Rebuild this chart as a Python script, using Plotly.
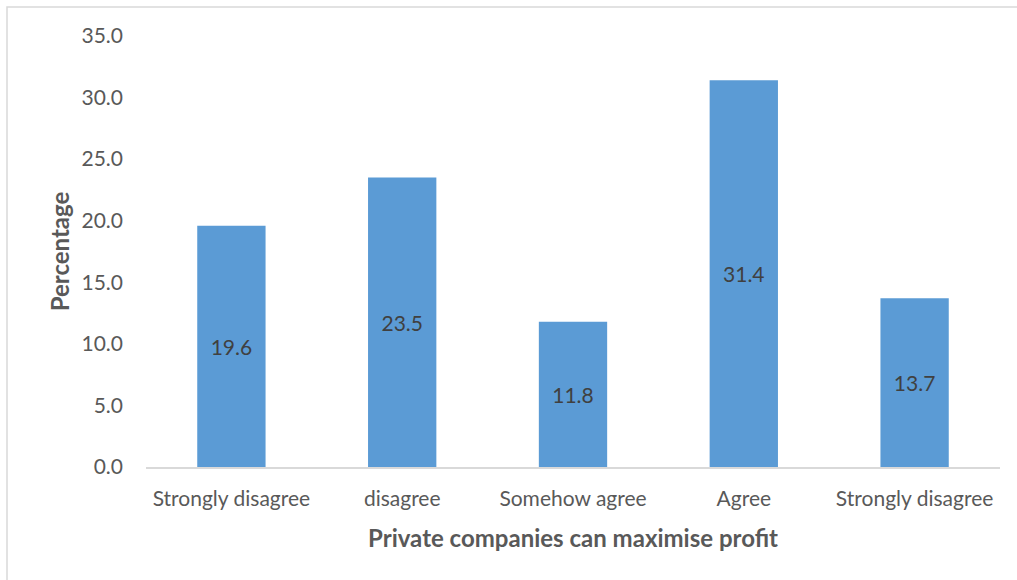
import plotly.graph_objects as go

categories = ["Strongly disagree", "disagree", "Somehow agree", "Agree", "Strongly disagree"]
values = [19.6, 23.5, 11.8, 31.4, 13.7]
y_ticks = [0, 5, 10, 15, 20, 25, 30, 35]

W, H = 1017, 580
L, R, T, B = 146, 17, 36, 113
pw, ph = W - L - R, H - T - B

positions = list(range(len(categories)))
font = "Lato, Open Sans, sans-serif"

fig = go.Figure(go.Bar(
    x=positions, y=values,
    width=0.4,
    marker=dict(color="#5b9bd5", line=dict(color="#5b9bd5", width=0)),
    text=[f"{v:.1f}" for v in values],
    textposition="inside", insidetextanchor="middle",
    textfont=dict(family=font, size=21, color="#404040"),
    textangle=0,
))

fig.update_layout(
    width=W, height=H,
    margin=dict(l=L, r=R, t=T, b=B),
    paper_bgcolor="white", plot_bgcolor="white",
    showlegend=False,
    xaxis=dict(
        tickmode="array", tickvals=positions, ticktext=categories,
        range=[-0.5, len(categories) - 0.5],
        showgrid=False, zeroline=False,
        showline=True, linecolor="#d9d9d9", linewidth=2,
        ticks="", ticklabelstandoff=12,
        tickfont=dict(family=font, size=21, color="#595959"),
        title=dict(text="<b>Private companies can maximise profit</b>",
                   font=dict(family=font, size=24, color="#595959"), standoff=21),
    ),
    yaxis=dict(
        range=[0, 35], tickvals=y_ticks, ticktext=[f"{t:.1f}" for t in y_ticks],
        showgrid=False, zeroline=False, showline=False,
        ticks="", ticklabelstandoff=22,
        tickfont=dict(family=font, size=21, color="#595959"),
        title=dict(text="<b>Percentage</b>",
                   font=dict(family=font, size=24, color="#595959"), standoff=5),
    ),
    shapes=[dict(type="rect", xref="paper", yref="paper",
                 x0=(7 - L) / pw, x1=(W + 20 - L) / pw,
                 y0=-(H + 20 - T - ph) / ph, y1=(ph + T - 7) / ph,
                 line=dict(color="#d9d9d9", width=1.5), fillcolor="rgba(0,0,0,0)",
                 layer="below")],
)

fig.write_html(
    "out.html",
    config={"displayModeBar": False},
    post_script="document.body.style.margin='0';document.body.style.overflow='hidden';",
)
